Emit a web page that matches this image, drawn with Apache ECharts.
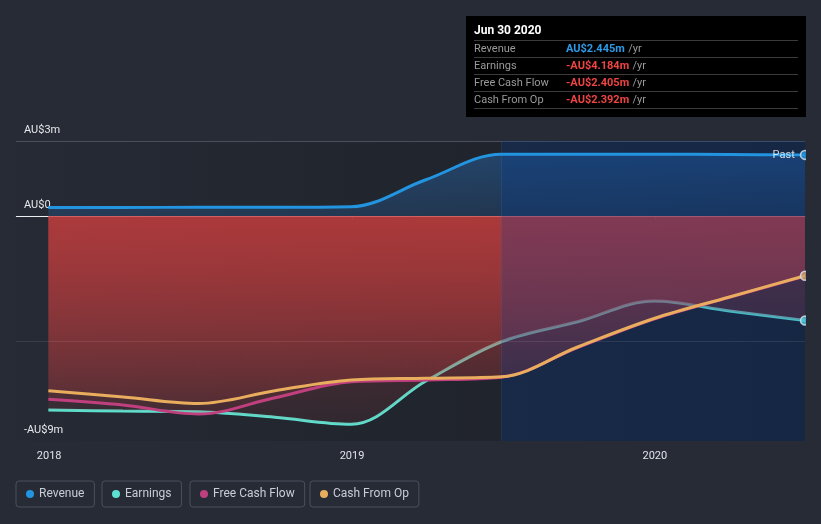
<!DOCTYPE html>
<html>
<head>
<meta charset="utf-8">
<script src="https://cdn.jsdelivr.net/npm/echarts@6/dist/echarts.min.js"></script>
<style>
html,body{margin:0;padding:0;background:#262b36;}
#chart{width:821px;height:524px;}
</style>
</head>
<body>
<div id="chart"></div>
<script>
// ---- data ----
const dates = ['2017-12-31','2018-03-31','2018-06-30','2018-09-30','2018-12-31','2019-03-31','2019-06-30','2019-09-30','2019-12-31','2020-03-31','2020-06-30'];
const revenue      = [0.34, 0.34, 0.35, 0.35, 0.37, 1.45, 2.47, 2.47, 2.47, 2.46, 2.445];
const earnings     = [-7.76, -7.80, -7.83, -8.05, -8.33, -6.60, -5.03, -4.23, -3.40, -3.80, -4.184];
const freeCashFlow = [-7.33, -7.56, -7.92, -7.27, -6.63, -6.56, -6.45, -5.26, -4.12, -3.25, -2.405];
const cashFromOp   = [-6.99, -7.24, -7.50, -6.99, -6.56, -6.49, -6.43, -5.24, -4.10, -3.24, -2.392];
const seriesNames = ['Revenue', 'Earnings', 'Free Cash Flow', 'Cash From Op'];
const xTickDates = ['2018-01-01', '2019-01-01', '2020-01-01'];
const yTickValues = [3, 0, -9];
const yTickLabels = ['AU$3m', 'AU$0', '-AU$9m'];
const pastStart = '2019-06-30';
const tooltipTitle = 'Jun 30 2020';
const tooltipValues = ['AU$2.445m', '-AU$4.184m', '-AU$2.405m', '-AU$2.392m'];

// ---- styling ----
const colors = ['#2394df', '#5de0cf', '#c0407f', '#e9ad5e'];
const T = s => Date.parse(s);
const pts = arr => dates.map((d, i) => [T(d), arr[i]]);
const xMin = Date.UTC(2017, 10, 22);
const xMax = T(dates[dates.length - 1]);
const font = 'Roboto, "Noto Sans", sans-serif';

function redGrad() {
  return {type: 'linear', x: 0, y: 0, x2: 0, y2: 1, colorStops: [
    {offset: 0, color: 'rgba(205,62,62,0.42)'},
    {offset: 1, color: 'rgba(205,62,62,0.09)'}]};
}
function lineSeries(name, data, color, z) {
  return {name, type: 'line', data: pts(data), z, smooth: 0.35, showSymbol: false, symbol: 'none',
    lineStyle: {color, width: 3}, itemStyle: {color}};
}
function areaSeries(data, fill, z) {
  return {type: 'line', data: pts(data), z, smooth: 0.35, showSymbol: false, symbol: 'none', silent: true,
    lineStyle: {width: 0, opacity: 0}, areaStyle: {color: fill, opacity: 1}, tooltip: {show: false}};
}
const lastPt = arr => [[xMax, arr[arr.length - 1]]];

const series = [
  areaSeries(revenue, {type: 'linear', x: 0, y: 0, x2: 0, y2: 1, colorStops: [
    {offset: 0, color: 'rgba(40,120,205,0.38)'}, {offset: 1, color: 'rgba(40,120,205,0.22)'}]}, 1),
  // reference lines
  {type: 'line', data: [], z: 2, silent: true,
    markLine: {silent: true, symbol: 'none', z: 2, label: {show: false},
      data: [{yAxis: 0, lineStyle: {color: '#ffffff', width: 1, type: 'solid', opacity: 0.9}},
             {yAxis: 3, lineStyle: {color: '#4a4f5b', width: 1, type: 'solid'}}]}},
  lineSeries('Earnings', earnings, colors[1], 3),
  areaSeries(earnings, redGrad(), 4),
  areaSeries(freeCashFlow, redGrad(), 4),
  areaSeries(cashFromOp, redGrad(), 4),
  // past band
  {type: 'line', data: [], z: 5, silent: true,
    markArea: {silent: true, z: 5, itemStyle: {color: 'rgba(0,62,165,0.24)', borderWidth: 0},
      data: [[{xAxis: T(pastStart)}, {xAxis: xMax}]]},
    markLine: {silent: true, symbol: 'none', z: 5, label: {show: false},
      data: [{xAxis: T(pastStart), lineStyle: {color: 'rgba(70,120,200,0.18)', width: 1, type: 'solid'}}]}},
  lineSeries('Revenue', revenue, colors[0], 6),
  lineSeries('Free Cash Flow', freeCashFlow, colors[2], 6),
  lineSeries('Cash From Op', cashFromOp, colors[3], 6),
  {type: 'line', data: [], z: 8, silent: true,
    markLine: {silent: true, symbol: 'none', z: 8, label: {show: false},
      data: [{yAxis: -5, lineStyle: {color: 'rgba(255,255,255,0.09)', width: 1, type: 'solid'}}]}},
  {type: 'scatter', data: lastPt(revenue), z: 9, symbolSize: 9, silent: true,
    itemStyle: {color: colors[0], borderColor: '#dde4ec', borderWidth: 1.5},
    label: {show: true, position: 'left', distance: 5, formatter: 'Past', color: '#ffffff', fontSize: 11, fontFamily: font}},
  {type: 'scatter', data: lastPt(earnings), z: 9, symbolSize: 9, silent: true,
    itemStyle: {color: '#4cc9dc', borderColor: '#dde4ec', borderWidth: 1.5}},
  {type: 'scatter', data: lastPt(cashFromOp), z: 9, symbolSize: 9, silent: true,
    itemStyle: {color: '#c9a074', borderColor: '#dde4ec', borderWidth: 1.5}}
];

const legendLefts = [16, 102, 190, 310];
const legends = seriesNames.map((n, i) => ({
  data: [{name: n, itemStyle: {color: colors[i]}}], left: legendLefts[i], top: 481,
  orient: 'horizontal', icon: 'circle', itemWidth: 8, itemHeight: 8, itemGap: 5,
  padding: [7, 10, 7, 10], borderColor: '#4a505d', borderWidth: 1, borderRadius: 3,
  selectedMode: false, textStyle: {color: '#c9cdd5', fontSize: 12, fontFamily: font}
}));

// tooltip-like panel
const rowY = [49, 66, 83, 100];
const sepY = [40, 57, 74, 91, 108];
const graphic = [
  {type: 'rect', shape: {x: 806, y: 120, width: 15, height: 330}, style: {fill: '#262b36'}, z: 100},
  {type: 'rect', shape: {x: 466, y: 16, width: 340, height: 101}, style: {fill: '#000000'}, z: 100},
  {type: 'text', x: 474, y: 31, z: 101, style: {text: tooltipTitle, fill: '#ffffff', font: 'bold 12px ' + font, verticalAlign: 'middle'}}
];
sepY.forEach(y => graphic.push({type: 'line', z: 101, shape: {x1: 474, y1: y + 0.5, x2: 798, y2: y + 0.5}, style: {stroke: '#3b3b3b', lineWidth: 1}}));
seriesNames.forEach((n, i) => {
  graphic.push({type: 'text', x: 474, y: rowY[i], z: 101, style: {text: n, fill: '#9a9a9a', font: '11px ' + font, verticalAlign: 'middle'}});
  graphic.push({type: 'text', x: 566, y: rowY[i], z: 101, style: {
    text: '{v|' + tooltipValues[i] + '} {u|/yr}', verticalAlign: 'middle',
    rich: {v: {fill: i === 0 ? '#2d9be8' : '#ee4444', font: 'bold 11px ' + font},
           u: {fill: '#9a9a9a', font: '11px ' + font}}}});
});

const chart = echarts.init(document.getElementById('chart'), null, {renderer: 'canvas'});
chart.setOption({
  backgroundColor: '#262b36',
  animation: false,
  grid: {left: 16, right: 16, top: 141, bottom: 83, show: true, borderWidth: 0,
    backgroundColor: {type: 'linear', x: 0, y: 0, x2: 1, y2: 0, colorStops: [
      {offset: 0, color: '#252a34'}, {offset: 1, color: '#1d2027'}]}},
  legend: legends,
  xAxis: {type: 'value', min: xMin, max: xMax,
    axisLine: {show: true, lineStyle: {color: '#4b5160', width: 1}},
    axisTick: {show: true, length: 4, customValues: xTickDates.map(T), lineStyle: {color: '#4b5160'}},
    splitLine: {show: false},
    axisLabel: {customValues: xTickDates.map(T), color: '#e2e4e8', fontSize: 11, fontFamily: font, margin: 10,
      formatter: v => String(new Date(v).getUTCFullYear())}},
  yAxis: {type: 'value', min: -9, max: 3,
    axisLine: {show: false}, axisTick: {show: false}, splitLine: {show: false},
    axisLabel: {customValues: yTickValues, inside: true, margin: 8, verticalAlign: 'bottom', padding: [0, 0, 5, 0],
      color: '#e6e8ec', fontSize: 11, fontFamily: font,
      formatter: v => { const k = yTickValues.indexOf(v); return k >= 0 ? yTickLabels[k] : ''; }}},
  series,
  graphic
});
</script>
</body>
</html>
